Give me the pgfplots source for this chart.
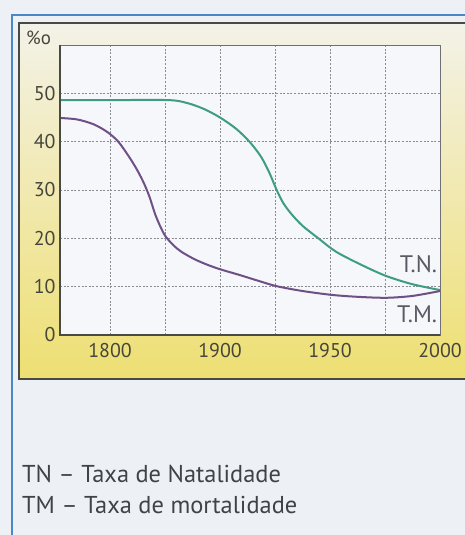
\documentclass[border=0pt]{standalone}
\usepackage{pgfplots}
\pgfplotsset{compat=1.18}
\usepackage{fontspec}
\setmainfont{PT Sans}
\definecolor{pagebg}{HTML}{EDF0F4}
\definecolor{frameblue}{HTML}{4A86C8}
\definecolor{boxline}{HTML}{4A4A44}
\definecolor{paleY}{HTML}{F3F2E8}
\definecolor{midY}{HTML}{F0E9AE}
\definecolor{deepY}{HTML}{EEDF72}
\definecolor{plotbg}{HTML}{F5F7FA}
\definecolor{tngreen}{HTML}{3E9C82}
\definecolor{tmpurple}{HTML}{6E4F86}
\definecolor{ticktxt}{HTML}{46463A}
\definecolor{labtxt}{HTML}{585A64}
\definecolor{legtxt}{HTML}{404249}
\definecolor{gridc}{HTML}{8A8C92}
\begin{document}
\begin{tikzpicture}
\clip (0,0) rectangle (465bp,535bp);
\fill[pagebg] (0,0) rectangle (465bp,535bp);
\shade[top color=paleY, middle color=midY, bottom color=deepY] (19bp,156bp) rectangle (480bp,512bp);
\draw[boxline, line width=1.1bp] (480bp,156bp) -- (19bp,156bp) -- (19bp,512bp) -- (480bp,512bp);
\draw[frameblue, line width=2bp] (12bp,-10bp) -- (12bp,520bp) -- (480bp,520bp);
\node[anchor=base west, text=ticktxt, font=\fontsize{19}{22}\selectfont, inner sep=0pt] at (26bp,490bp) {\%o};
\begin{axis}[
  at={(60bp,200bp)}, anchor=south west,
  scale only axis, width=380bp, height=290bp,
  xmin=0.09, xmax=7, ymin=0, ymax=60,
  axis background/.style={fill=plotbg},
  xtick={1,2,3,4,5,6,7},
  xticklabels={1800,,1900,,1950,,2000},
  ytick={0,10,20,30,40,50},
  major tick length=0pt,
  grid=major,
  major grid style={gridc, line width=0.6bp, dash pattern=on 2bp off 1.6bp},
  axis line style={draw=gridc!80!black, line width=0.7bp},
  tick label style={text=ticktxt, font=\fontsize{20}{24}\selectfont},
  /pgf/number format/assume math mode=true,
  xticklabel style={yshift=-5bp},
  yticklabel style={xshift=-1bp},
  clip=false,
]
\addplot[tngreen, line width=2bp, smooth, tension=0.5] coordinates {
 (0.09,48.6) (1.0,48.6) (2.06,48.6) (2.4,48.0) (2.7,46.8) (3.0,45.0) (3.3,42.6)
 (3.55,39.8) (3.75,36.8) (3.9,33.5) (4.03,30.0) (4.15,27.3) (4.3,25.0) (4.5,22.6)
 (4.8,19.9) (5.1,17.3) (5.5,14.9) (6.0,12.3) (6.5,10.5) (7.0,9.3)
};
\addplot[tmpurple, line width=2bp, smooth, tension=0.5] coordinates {
 (0.09,44.9) (0.4,44.6) (0.7,43.6) (0.95,42.0) (1.15,40.0) (1.35,36.8) (1.5,34.0)
 (1.62,31.3) (1.72,28.5) (1.82,25.0) (1.92,22.3) (2.01,20.4) (2.15,18.6) (2.3,17.2)
 (2.55,15.6) (2.8,14.4) (3.03,13.5) (3.36,12.4) (3.7,11.2) (4.03,10.1) (4.5,9.1)
 (5.03,8.3) (5.5,7.9) (6.03,7.7) (6.51,8.1) (7.0,9.1)
};
\node[anchor=base east, text=labtxt, font=\fontsize{24}{28}\selectfont, inner sep=0pt] at (axis cs:6.95,13.0) {T.N.};
\node[anchor=base east, text=labtxt, font=\fontsize{24}{28}\selectfont, inner sep=0pt] at (axis cs:6.95,2.6) {T.M.};
\draw[boxline, line width=1.1bp] (rel axis cs:0,1) -- (rel axis cs:0,0) -- (rel axis cs:1,0);
\end{axis}
\node[anchor=base west, text=legtxt, font=\fontsize{24.5}{28}\selectfont, inner sep=0pt] at (22bp,52bp) {TN – Taxa de Natalidade};
\node[anchor=base west, text=legtxt, font=\fontsize{24.5}{28}\selectfont, inner sep=0pt] at (22bp,22bp) {TM – Taxa de mortalidade};
\end{tikzpicture}
\end{document}
